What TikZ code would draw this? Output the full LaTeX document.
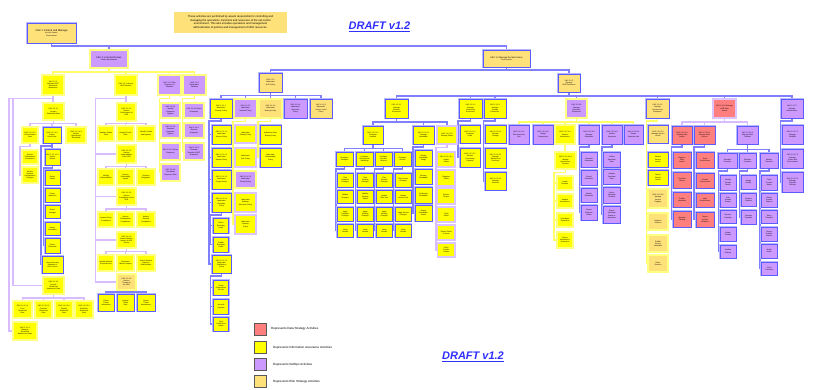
\documentclass[tikz,border=0pt]{standalone}
\usepackage{fontspec}
\setmainfont{Liberation Sans}
\pgfdeclarelayer{bg}
\pgfsetlayers{bg,main}
\definecolor{fY}{HTML}{FFFF00}
\definecolor{fP}{HTML}{CC99FF}
\definecolor{fO}{HTML}{FFE17A}
\definecolor{fR}{HTML}{FF7F7F}
\definecolor{kB}{HTML}{5B5BFF}
\definecolor{kBl}{HTML}{B8B8FF}
\definecolor{kY}{HTML}{FFFF80}
\definecolor{kP}{HTML}{DCC4FF}
\definecolor{lB}{HTML}{8080FF}
\definecolor{lY}{HTML}{FFFF66}
\definecolor{lP}{HTML}{D8BCFF}
\definecolor{dBl}{HTML}{2F2FFF}
\newcommand\bxf{\fontsize{1.8}{2.15}\selectfont}
\tikzset{
  box/.style={rectangle, inner sep=0.3pt, align=center, font=\bxf, text=black},
  haloB/.style={preaction={draw=kBl, line width=2.2pt}},
  yb/.style={box, fill=fY, draw=kB, line width=0.9pt, haloB},
  yy/.style={box, fill=fY, draw=kY, line width=1.2pt},
  yp/.style={box, fill=fY, draw=kP, line width=1.2pt},
  py/.style={box, fill=fP, draw=kY, line width=1.2pt},
  pb/.style={box, fill=fP, draw=kB, line width=0.9pt, haloB},
  ob/.style={box, fill=fO, draw=kB, line width=0.9pt, haloB},
  oy/.style={box, fill=fO, draw=kY, line width=1.2pt},
  rb/.style={box, fill=fR, draw=kB, line width=0.9pt, haloB},
  rp/.style={box, fill=fR, draw=kP, line width=1.2pt},
  cB/.style={draw=lB, line width=1.2pt},
  cY/.style={draw=lY, line width=1.2pt},
  cP/.style={draw=lP, line width=1.2pt},
  keybox/.style={rectangle, draw=black!65, line width=0.8pt, minimum size=12pt, inner sep=0pt},
  keytext/.style={anchor=west, inner sep=0pt, font=\fontsize{3}{3.6}\selectfont},
  draft/.style={inner sep=0pt, text=dBl, font=\fontsize{11}{12}\bfseries\itshape\selectfont}
}
% box: name, style, x1, y1, x2, y2, text
\newcommand\bx[7]{\expandafter\bxA\expandafter{#2}{#1}{#3}{#4}{#5}{#6}{#7}}
\newcommand\bxA[7]{\node[#1, minimum width={(#5-#3)*1pt}, minimum height={(#6-#4)*1pt}] (#2) at ({(#3+#5)/2},{(#4+#6)/2}) {#7};}
% bus connector: style, parent, child, bus y
\newcommand\tb[4]{\begin{pgfonlayer}{bg}\draw[#1] (#2.south) -- (#2.south |- 0,#4) -| (#3.north);\end{pgfonlayer}}
% spine connector: style, parent, child, spine x
\newcommand\sq[4]{\begin{pgfonlayer}{bg}\draw[#1] (#2.south) -- ++(0,2.5) -| (#4,0 |- #3.west) -- (#3.west);\end{pgfonlayer}}
% straight drop: style, parent, child
\newcommand\dn[3]{\begin{pgfonlayer}{bg}\draw[#1] (#2.south) -- (#2.south |- #3.north);\end{pgfonlayer}}
% row of children: parent, prefix, conn, bus y, y1, y2, {x1/x2/style/text,...}
\newcommand\row[7]{\foreach \xa/\xb/\st/\tx [count=\ci] in {#7}{\bx{#2\ci}{\st}{\xa}{#5}{\xb}{#6}{\tx}\tb{#3}{#1}{#2\ci}{#4}}}
% column of children: parent, prefix, conn, spine x, x1, x2, {y1/y2/style/text,...}
\newcommand\col[7]{\foreach \ya/\yb/\st/\tx [count=\ci] in {#7}{\bx{#2\ci}{\st}{#5}{\ya}{#6}{\yb}{\tx}\sq{#3}{#1}{#2\ci}{#4}}}
\begin{document}
\begin{tikzpicture}[x=1pt,y=-1pt]
\useasboundingbox (0,0) rectangle (818,389);

% ---- title area
\node[fill=fO, minimum width=113pt, minimum height=21pt, inner sep=0pt, align=center,
      font=\fontsize{2.7}{3.5}\selectfont] (note) at (230.5,22.5)
  {These activities are performed by assets responsible for controlling and\\
   managing the operations, functions and resources of the net-centric\\
   environment. This also includes operations and management\\
   administration of policies and management of NCE resources.};
\node[draft] (draftA) at (379.5,27) {\underline{DRAFT v1.2}};
\node[draft] (draftB) at (473,357) {\underline{DRAFT v1.2}};

% ---- top levels
\bx{r0}{ob}{27}{23}{76}{43}{\fontsize{2.6}{3.2}\selectfont C\&C 1 Control and Manage\\the Net-Centric\\Environment}
\bx{r1}{py}{90}{50}{128}{68}{\fontsize{2.3}{2.9}\selectfont C\&C 1.1 Control the Net-\\Centric Environment}
\bx{r2}{ob}{483}{50}{530}{67}{\fontsize{2.2}{2.8}\selectfont C\&C 1.2 Manage the Net-Centric\\Environment}
\tb{cB}{r0}{r1}{46}
\tb{cB}{r0}{r2}{46}
\bx{r21}{ob}{259}{73}{282}{92}{C\&C 1.2.1\\Administer\\NCE Policy}
\bx{r22}{ob}{558}{74}{580}{92}{C\&C 1.2.2\\Manage\\NCE Resources}
\tb{cB}{r2}{r21}{70}
\tb{cB}{r2}{r22}{70}

% ---- C&C 1.1 branch
\row{r1}{L}{cY}{72}{75}{95}{42/64/yy/{C\&C 1.1.1\\Maintain NCE\\Situational\\Awareness},
  115/137/yy/{C\&C 1.1.2 Assess\\NCE Situation},
  158/181/py/{C\&C 1.1.3 Plan\\Response to\\Situation},
  183/206/py/{C\&C 1.1.4\\Respond to\\Situation}}

% situational awareness
\bx{L11}{yy}{43}{103}{64}{120}{C\&C 1.1.1.1\\Acquire\\Situational Data}
\dn{cP}{L1}{L11}
\row{L11}{L11r}{cP}{123.5}{127}{143}{22/38/yy/{C\&C 1.1.1.1.1\\Collect Status\\Data},
  43/61/yb/{C\&C 1.1.1.1.2\\Collect\\Event Data},
  66/86/yy/{C\&C 1.1.1.1.3\\Monitor\\Operational\\Thresholds}}
\col{L11r1}{L111c}{cP}{20}{22}{38}{150/164/yy/{Monitor\\Performance\\Information},
  167/183/yy/{Monitor\\Network\\Configuration\\Changes}}
\bx{L1121}{yb}{45}{149}{60}{165}{C\&C 1.1.1.1.2.1\\Detect\\Events}
\dn{cB}{L11r2}{L1121}
\col{L1121}{L1121c}{cB}{43.5}{45}{60}{170/185/yb/{Detect\\Faults},
  188/202/yb/{Detect\\Intrusions},205/218/yb/{Detect\\Outages},
  222/235/yb/{Detect\\Anomalies},238/253/yb/{Detect\\Overloads}}
\bx{L1122}{yb}{42}{256}{63}{273}{Report Security\\Incidents to\\CND Service}
\sq{cB}{L11r2}{L1122}{41}
\bx{L12}{yy}{43}{277}{64}{294}{C\&C 1.1.1.2\\Provide\\Situational\\Awareness Data}
\sq{cP}{L1}{L12}{13}
\row{L12}{L12r}{cP}{298}{301}{318}{13/32/yy/{C\&C 1.1.1.2.1\\Fuse\\Situational\\Data},
  35/52/yy/{C\&C 1.1.1.2.2\\Correlate\\Situational\\Data},
  55/73/yy/{C\&C 1.1.1.2.3\\Display\\Situational\\Data},
  75/93/yy/{C\&C 1.1.1.2.4\\Distribute\\Situational\\Data}}
\bx{L125}{yy}{13}{322}{37}{340}{C\&C 1.1.1.3\\Manage\\Situational\\Awareness Views}
\sq{cP}{L1}{L125}{9}

% situation assessment
\bx{L21}{yy}{117}{103}{136}{121}{C\&C 1.1.2.1\\Assess\\Performance of\\NCE}
\dn{cP}{L2}{L21}
\row{L21}{L21r}{cP}{123.5}{126}{141}{98/114/yy/{Analyze Status\\Data},
  117/134/yy/{Analyze Event\\Data},137/155/yy/{Identify Trends\\and Impacts}}
\bx{L22}{yy}{117}{145}{136}{163}{C\&C 1.1.2.2\\Assess\\Vulnerabilities\\of the NCE}
\sq{cP}{L2}{L22}{95.5}
\row{L22}{L22r}{cP}{166.5}{169}{185}{98/114/yy/{Identify\\Vulnerabilities},
  117/134/yy/{Assess\\Vulnerability\\Impact},137/155/yy/{Prioritize\\Mitigations}}
\bx{L23}{yy}{117}{188}{136}{205}{C\&C 1.1.2.3\\Assess\\Compliance of the\\NCE}
\sq{cP}{L2}{L23}{95.5}
\row{L23}{L23r}{cP}{209}{212}{227}{98/114/yy/{Assess Policy\\Compliance},
  117/134/yy/{Assess\\Configuration\\Compliance},137/155/yy/{Assess\\Security\\Compliance}}
\bx{L24}{yy}{117}{232}{136}{248}{C\&C 1.1.2.4\\Assess Mission\\Impact of NCE\\Events}
\sq{cP}{L2}{L24}{95.5}
\row{L24}{L24r}{cP}{251.5}{255}{271}{98/114/yy/{Identify Mission\\Dependencies},
  117/134/yy/{Determine\\Mission Impact},137/155/yy/{Report Mission\\Impact to\\Stakeholders}}
\bx{L25}{oy}{117}{274}{136}{290}{C\&C 1.1.2.5\\Assess\\Threats to\\the NCE}
\sq{cP}{L2}{L25}{95.5}
\row{L25}{L25r}{cB}{292}{294.5}{311}{98/114/yb/{Collect\\Threat\\Information},
  117/134/yb/{Analyze\\Threat\\Data},137/155/yb/{Report\\Threat\\Assessment}}

% response planning and execution
\col{L3}{L3c}{cY}{159.5}{161}{180}{103/118/py/{C\&C 1.1.3.1\\Identify\\Response\\Options},
  123/138/py/{C\&C 1.1.3.2\\Evaluate\\Response\\Options},
  143/160/py/{C\&C 1.1.3.3 Select\\Response},
  164/181/py/{C\&C 1.1.3.4\\Coordinate\\Response Plan}}
\col{L4}{L4c}{cY}{182.5}{184}{204}{103/118/py/{C\&C 1.1.4.1 Direct\\Response},
  123/138/py/{C\&C 1.1.4.2\\Execute\\Response},
  143/160/py/{C\&C 1.1.4.3\\Evaluate\\Results of NCE\\Response}}

% ---- C&C 1.2.1 policy branch
\row{r21}{M}{cB}{95.5}{99}{118}{210/232/yb/{C\&C 1.2.1.1\\Administer\\Security Policy},
  234/257/py/{C\&C 1.2.1.2\\Administer\\Network Policy},
  259/282/oy/{C\&C 1.2.1.3\\Administer\\Sharing Policy},
  284/307/pb/{C\&C 1.2.1.4\\Administer\\Spectrum\\Policy},
  310/332/ob/{C\&C 1.2.1.5\\Administer\\Service Level\\Policy}}
\col{M1}{M1c}{cB}{209}{212}{231}{125/144/yb/{C\&C 1.2.1.1.1\\Administer\\Access Policy},
  148/167/yb/{C\&C 1.2.1.1.2\\Administer\\Identity Policy},
  170/189/yb/{C\&C 1.2.1.1.3\\Administer\\Crypto Policy},
  193/212/yb/{C\&C 1.2.1.1.4\\Administer\\Boundary\\Policy},
  255/273/yb/{C\&C 1.2.1.1.5\\Administer\\Certification\\Policy}}
\col{M1c4}{M1d}{cB}{210.5}{213.5}{228.5}{218/233/yb/{Define\\Boundary\\Rules},
  237/252/yb/{Publish\\Boundary\\Rules}}
\col{M1c5}{M1e}{cB}{210.5}{213.5}{228.5}{280/295/yb/{Certify\\Components\\for Use},
  299/314/yb/{Accredit\\Systems},317/331/yb/{Track\\Certification\\Status}}
\col{M2}{M2c}{cY}{233}{235}{256}{125/143/yp/{Administer\\Routing Policy},
  148/167/yp/{Administer\\QoS Policy},171/188/py/{C\&C 1.2.1.2.3\\Administer\\Priority Policy},
  193/212/yp/{Administer\\Address\\Allocation Policy},215/234/yp/{Administer\\Naming\\Policy}}
\col{M3}{M3c}{cY}{258}{260}{281}{125/144/yb/{Administer Data\\Sharing Policy},
  148/167/yb/{Administer\\Releasability\\Policy}}

% ---- C&C 1.2.2 resource branch
\row{r22}{Q}{cB}{96}{99}{118}{385/408/yb/{C\&C 1.2.2.1\\Manage\\Network\\Resources},
  459/482/yb/{C\&C 1.2.2.2\\Manage\\Computing\\Resources},
  484/506/yb/{C\&C 1.2.2.3\\Manage\\Storage\\Resources},
  566/587/py/{C\&C 1.2.2.4\\Manage\\Spectrum\\Resources},
  646/669/ob/{C\&C 1.2.2.5\\Manage\\Services and\\Enterprise},
  713/736/rp/{C\&C 1.2.2.6 Manage\\NCE Data\\Assets},
  781/803/pb/{C\&C 1.2.2.7\\Manage\\Infrastructure}}

% network resources
\row{Q1}{A}{cB}{122}{126}{144}{363/383/yb/{C\&C 1.2.2.1.1\\Configure\\Network},
  413/434/yb/{C\&C 1.2.2.1.2\\Manage\\Bandwidth},
  437/457/yp/{C\&C 1.2.2.1.3\\Manage Faults}}
\row{A1}{A1r}{cB}{148.5}{152}{166}{336/353/yb/{Configure\\Transport},
  356/373/yb/{Configure\\Routing and\\Switching},375/392/yb/{Configure\\Security\\Devices},
  394/411/yb/{Configure\\Access}}
\col{A1r1}{A1a}{cB}{336}{337.5}{353}{173/187/yb/{Plan\\Transport\\Changes},
  190/203/yb/{Validate\\Changes},207/221/yb/{Apply\\Transport\\Changes},224/237/yb/{Verify\\Results}}
\col{A1r2}{A1b}{cB}{355.5}{357.5}{373}{173/187/yb/{Plan\\Routing\\Changes},
  190/203/yb/{Validate\\Routing\\Tables},207/221/yb/{Apply\\Routing\\Changes},224/237/yb/{Verify\\Results}}
\col{A1r3}{A1c}{cB}{374.5}{376.5}{392}{173/187/yb/{Plan\\Security\\Changes},
  190/203/yb/{Update\\Rule Sets},207/221/yb/{Apply\\Security\\Changes},224/237/yb/{Verify\\Results}}
\col{A1r4}{A1d}{cB}{393.5}{395.5}{411}{173/187/yb/{Plan Access\\Changes},
  190/203/yb/{Update\\Access Lists},207/221/yb/{Apply Access\\Changes},224/237/yb/{Verify\\Results}}
\col{A2}{A2c}{cB}{413}{415}{432}{150/166/yb/{Monitor\\Bandwidth\\Usage},
  169/184/yb/{Allocate\\Bandwidth},187/203/yb/{Reallocate\\Bandwidth},205/221/yb/{Report\\Bandwidth\\Status}}
\col{A3}{A3c}{cP}{436}{437.5}{455}{152/167/yp/{C\&C 1.2.2.1.3.1\\Isolate\\Faults},
  170/186/yp/{Diagnose\\Faults},188/204/yp/{Restore\\Service},207/222/yp/{Track\\Faults},
  225/240/yp/{Report Faults\\to Users},243/257/yp/{Close\\Trouble\\Tickets}}

% computing and storage resources
\col{Q2}{Bc}{cB}{458}{460}{480}{125/143/yb/{C\&C 1.2.2.2.1\\Configure\\Hosts},
  148/167/yb/{C\&C 1.2.2.2.2\\Allocate\\Processing\\Capacity}}
\col{Q3}{Cc}{cB}{483.5}{485}{506}{125/143/yb/{C\&C 1.2.2.3.1\\Allocate\\Storage},
  148/168/yb/{C\&C 1.2.2.3.2\\Manage\\Backup and\\Recovery},
  172/190/yb/{C\&C 1.2.2.3.3\\Manage\\Archives}}

% spectrum resources
\row{Q4}{D}{cY}{122}{125}{144}{509/529/pb/{C\&C 1.2.2.4.1\\Plan Spectrum\\Use},
  533/553/pb/{C\&C 1.2.2.4.2\\Assign\\Frequencies},
  555/575/yy/{C\&C 1.2.2.4.3\\Resolve\\Interference},
  579/599/pb/{C\&C 1.2.2.4.4\\Manage\\Emissions},
  602/622/pb/{C\&C 1.2.2.4.5\\Monitor\\Spectrum},
  624/643/pb/{C\&C 1.2.2.4.6\\Report\\Spectrum Use}}
\bx{D31}{yy}{555}{152}{576}{169}{C\&C 1.2.2.4.3.1\\Identify\\Interference\\Sources}
\dn{cY}{D3}{D31}
\col{D31}{D3c}{cY}{554}{557}{573}{176/190/yy/{Locate\\Emitters},
  194/208/yy/{Analyze\\Interference},213/227/yy/{Coordinate\\Resolution},
  232/248/yy/{Report\\Interference\\Resolution}}
\col{D4}{D4c}{cB}{579.5}{581}{597}{152/167/pb/{Schedule\\Emissions},
  170/185/pb/{Control\\Emissions},188/202/pb/{Monitor\\Emissions},205/220/pb/{Report\\Emission\\Status}}
\col{D5}{D5c}{cB}{602}{603.5}{620}{152/167/pb/{Collect\\Spectrum\\Data},
  169/184/pb/{Analyze\\Spectrum\\Data},187/203/pb/{Detect\\Spectrum\\Conflicts},
  206/223/pb/{Report\\Spectrum\\Status to\\Operators}}

% services and enterprise
\col{Q5}{Ec}{cB}{646.5}{648}{668}{125/143/ob/{C\&C 1.2.2.5.1\\Manage Service\\Levels},
  152/167/yb/{Monitor\\Service\\Levels},170/185/yb/{Report\\Service\\Levels}}
\col{Q5}{Ed}{cY}{646.5}{648}{668}{189/208/oy/{C\&C 1.2.2.5.2\\Manage\\Service\\Registry},
  213/230/oy/{Register\\Services},235/252/oy/{Publish\\Service\\Metadata},
  255/272/oy/{Retire\\Services}}

% data assets
\row{Q6}{F}{cP}{122}{126}{144}{672/692/rb/{C\&C 1.2.2.6.1\\Catalog Data\\Assets},
  694/715/rb/{C\&C 1.2.2.6.2\\Manage Data\\Access},
  737/758/pb/{C\&C 1.2.2.6.3\\Manage Data\\Transfer}}
\col{F1}{F1c}{cB}{671.5}{673}{691}{152/168/rb/{Register\\Data\\Assets},
  172/188/rb/{Tag Data\\Assets},192/207/rb/{Publish\\Metadata},211/227/rb/{Maintain\\Catalog}}
\col{F2}{F2c}{cB}{694}{696}{714}{152/168/rb/{Grant\\Data Access},
  173/188/rb/{Revoke\\Data Access},193/207/rb/{Audit\\Data Access},212/227/rb/{Report\\Access\\Violations}}
\row{F3}{F3r}{cB}{149.5}{153}{168}{718/737/pb/{Schedule\\Transfers},
  739/756/pb/{Prioritize\\Transfers},760/778/pb/{Monitor\\Transfers}}
\col{F3r1}{F3a}{cB}{718.5}{720}{736}{175/190/pb/{Identify\\Transfer\\Needs},
  193/207/pb/{Plan\\Transfer\\Routes},210/223/pb/{Reserve\\Capacity},227/241/pb/{Initiate\\Transfer},
  245/258/pb/{Confirm\\Delivery}}
\col{F3r2}{F3b}{cB}{739.5}{741}{756}{175/189/pb/{Assign\\Priority},
  193/206/pb/{Resolve\\Conflicts},210/224/pb/{Preempt\\Transfers}}
\col{F3r3}{F3c}{cB}{760}{761.5}{777}{175/190/pb/{Track\\Transfer\\Status},
  193/207/pb/{Detect\\Transfer\\Failures},210/223/pb/{Retry\\Transfers},227/241/pb/{Report\\Transfer\\Metrics},
  244/258/pb/{Notify\\Users},262/275/pb/{Close\\Transfers}}

% infrastructure
\col{Q7}{Gc}{cB}{780.5}{782}{803}{125/144/pb/{C\&C 1.2.2.7.1\\Manage\\Facilities},
  149/168/pb/{C\&C 1.2.2.7.2\\Manage\\Power and\\Environment},
  172/192/pb/{C\&C 1.2.2.7.3\\Manage\\Physical\\Security}}

% ---- key
\node[keybox, fill=fR] (k1) at (260,329) {};
\node[keybox, fill=fY] (k2) at (260,347.5) {};
\node[keybox, fill=fP] (k3) at (260,364.5) {};
\node[keybox, fill=fO] (k4) at (260,381.5) {};
\node[keytext] (t1) at (271,329) {Represents Data Strategy Activities};
\node[keytext] (t2) at (273,347.5) {Represents Information Assurance Activities};
\node[keytext] (t3) at (273,364.5) {Represents NetOps Activities};
\node[keytext] (t4) at (273,381.5) {Represents Risk Strategy Activities};
\end{tikzpicture}
\end{document}
